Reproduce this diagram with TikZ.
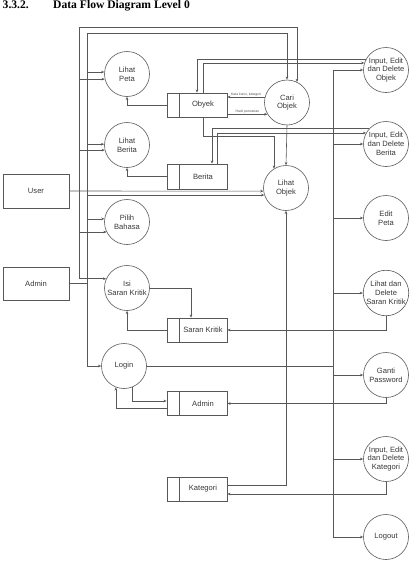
\documentclass[tikz,border=0pt]{standalone}
\usepackage{fontspec}
\setmainfont{Liberation Sans}
\newfontfamily\titlefont{Liberation Serif}
\usetikzlibrary{arrows.meta,calc}
\begin{document}
\begin{tikzpicture}[x=1pt,y=-1pt,
  line/.style={draw=black!66, line width=0.6pt},
  arr/.style={line, -{Stealth[length=3.2pt,width=2.6pt]}},
  txt/.style={font=\fontsize{7.6}{8.8}\selectfont, text=black!78},
  proc/.style={circle, draw=black!66, line width=0.6pt, minimum size=45pt, inner sep=0pt, align=center, txt},
  entity/.style={draw=black!66, line width=0.6pt, minimum width=66pt, minimum height=34pt, inner sep=0pt, txt},
  store/.style={draw=black!66, line width=0.6pt, minimum width=60pt, minimum height=24pt, inner sep=0pt, txt,
    path picture={\draw[black!66, line width=0.6pt] ([xshift=12pt]path picture bounding box.north west) -- ([xshift=12pt]path picture bounding box.south west);}},
  lbl/.style={font=\fontsize{3.4}{4}\selectfont, text=black!70, inner sep=0.6pt},
  ttl/.style={anchor=base west, inner sep=0pt, font=\titlefont\fontsize{11.6}{13}\selectfont\bfseries}
]
\useasboundingbox (0,0) rectangle (413,576);

% title
\node[ttl] (t1) at (2.5,8.5) {3.3.2.};
\node[ttl] (t2) at (53,8.5) {Data Flow Diagram Level 0};

% external entities
\node[entity] (user) at (36,191) {User};
\node[entity, minimum height=33pt] (admin) at (36,283.5) {Admin};

% processes
\node[proc] (lp) at (127,74) {Lihat\\Peta};
\node[proc] (lb) at (127,145) {Lihat\\Berita};
\node[proc] (pb) at (127,222) {Pilih\\Bahasa};
\node[proc] (isk) at (127,288) {Isi\\Saran Kritik};
\node[proc] (login) at (124,366) {Login};
\node[proc] (cari) at (287,102.5) {Cari\\Objek};
\node[proc] (lo) at (286,188) {Lihat\\Objek};
\node[proc] (iedo) at (386,70) {Input, Edit\\dan Delete\\Objek};
\node[proc] (iedb) at (386,144) {Input, Edit\\dan Delete\\Berita};
\node[proc] (ep) at (386,218) {Edit\\Peta};
\node[proc] (ldsk) at (386,293) {Lihat dan\\Delete\\Saran Kritik};
\node[proc] (gp) at (386,375) {Ganti\\Password};
\node[proc] (iedk) at (386,459) {Input, Edit\\dan Delete\\Kategori};
\node[proc] (logout) at (386,537) {Logout};

% data stores
\node[store] (obyek) at (197,105) {\hspace*{12pt}Obyek};
\node[store, minimum height=25pt] (berita) at (197,176.5) {\hspace*{12pt}Berita};
\node[store] (sk) at (197,330) {\hspace*{12pt}Saran Kritik};
\node[store] (adm) at (197,403.5) {\hspace*{12pt}Admin};
\node[store] (kat) at (197,489) {\hspace*{12pt}Kategori};

% bus coordinates
\coordinate (oT) at (79,27);
\coordinate (iT) at (87,33);
\coordinate (rT) at (333,70);

% left buses
\draw[arr] (oT) -| (cari.64);
\draw[arr] (oT) |- (isk.156);
\draw[arr] (iT) -| (cari.north);
\draw[arr] (iT) |- (login.west);

\draw[arr] (iT |- lp.175) -- (lp.175);
\draw[arr] (oT |- lp.193) -- (lp.193);
\draw[arr] (iT |- lb.178) -- (lb.178);
\draw[arr] (oT |- lb.193) -- (lb.193);
\draw[arr] (iT |- pb.172) -- (pb.172);
\draw[arr] (oT |- pb.206) -- (pb.206);
\draw[arr] (user.east) -- (lo.188);
\draw[arr] (iT |- lo.198) -- (lo.198);
\draw[line] (admin.east) -- (admin.east -| iT);

% right bus
\draw[line] (rT) -- (rT |- logout.west);
\draw[arr] (rT) -- (iedo.west);
\foreach \n in {iedb,ep,ldsk,gp,iedk,logout} \draw[arr] (rT |- \n.west) -- (\n.west);
\draw[line] (login.east) -- (login.east -| rT);

% Obyek
\draw[arr] (obyek.west) -| (lp.south);
\draw[arr] (cari.166) -- node[lbl, above] {Kata kunci, kategori} (cari.166 -| obyek.east);
\draw[arr] (cari.211 -| obyek.east) -- node[lbl, above] {Hasil pencarian} (cari.211);
\draw[arr] (iedo.151) -| (obyek.north);
\draw[arr] ([xshift=6.5pt]obyek.north) |- (iedo.162);
\draw[arr] ([xshift=6.5pt]obyek.south) -- ++(0,19) -| (lo.122);

% Berita
\draw[arr] (berita.west) -| (lb.south);
\draw[arr] (iedb.138) -| ([xshift=15pt]berita.north);
\draw[arr] ([xshift=20pt]berita.north) |- (iedb.151);

% Cari -> Lihat Objek
\draw[arr] (cari.south) -- (lo.north);

% Kategori
\draw[arr] ([yshift=4pt]kat.east) -| (lo.south);
\draw[arr] (iedk.south) |- ([yshift=-5pt]kat.east);

% Saran Kritik
\draw[arr] (isk.east) -| ([xshift=-6pt]sk.north);
\draw[arr] (sk.west) -| (isk.south);
\draw[arr] (ldsk.south) |- (sk.east);

% Admin store
\draw[arr] (login.291) |- ([yshift=2.5pt]adm.west);
\draw[arr] ([yshift=-4.5pt]adm.west) -| (login.249);
\draw[arr] (gp.south) |- (adm.east);
\end{tikzpicture}
\end{document}
